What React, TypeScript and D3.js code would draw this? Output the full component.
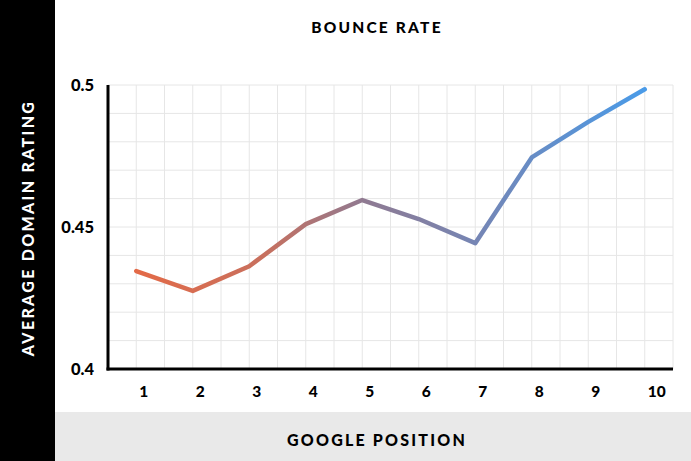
import React from "react";
import * as d3 from "d3";

const positions = [1, 2, 3, 4, 5, 6, 7, 8, 9, 10];
const values = [0.4345, 0.4275, 0.4362, 0.451, 0.4595, 0.4528, 0.4443, 0.4745, 0.487, 0.4985];
const yTicks = [0.4, 0.45, 0.5];
const title = "BOUNCE RATE";
const xTitle = "GOOGLE POSITION";
const yTitle = "AVERAGE DOMAIN RATING";

const W = 691, H = 461;
const left = 108, right = 673, top = 85, bottom = 369;

export default function App() {
  const x = d3.scaleLinear().domain([0.5, 10.5]).range([left, right]);
  const y = d3.scaleLinear().domain([0.4, 0.5]).range([bottom, top]);
  const line = d3.line<number>().x((_, i) => x(positions[i])).y((d) => y(d));
  const vGrid = d3.range(1, 21).map((i) => 0.5 + i * 0.5);
  const hGrid = d3.range(1, 11).map((i) => 0.4 + i * 0.01);
  const font = "Lato, 'Open Sans', sans-serif";
  return (
    <svg width={W} height={H} style={{ position: "absolute", left: 0, top: 0 }} fontFamily={font}>
      <defs>
        <linearGradient id="lg" gradientUnits="userSpaceOnUse" x1={x(1)} x2={x(10)} y1={0} y2={0}>
          <stop offset="0" stopColor="#e36a47" />
          <stop offset="0.25" stopColor="#c8705e" />
          <stop offset="0.45" stopColor="#8f7a92" />
          <stop offset="0.68" stopColor="#7486b6" />
          <stop offset="1" stopColor="#4a9be8" />
        </linearGradient>
      </defs>
      <rect x={0} y={0} width={W} height={H} fill="#fff" />
      <rect x={55} y={412} width={W - 55} height={H - 412} fill="#e9e9e9" />
      <rect x={0} y={0} width={55} height={H} fill="#000" />
      <text x={377} y={33} textAnchor="middle" fontSize={15.5} fontWeight={900} letterSpacing={2.2}>{title}</text>
      <text x={377} y={446} textAnchor="middle" fontSize={16} fontWeight={900} letterSpacing={2.2}>{xTitle}</text>
      <text transform={`translate(34,${(top + bottom) / 2 + 1}) rotate(-90)`} textAnchor="middle" fontSize={16} fontWeight={900} letterSpacing={2.3} fill="#fff">{yTitle}</text>
      {vGrid.map((v) => (
        <line key={"v" + v} x1={x(v)} x2={x(v)} y1={top} y2={bottom} stroke="#e6e6e6" strokeWidth={1} />
      ))}
      {hGrid.map((v) => (
        <line key={"h" + v} x1={left} x2={right} y1={y(v)} y2={y(v)} stroke="#e6e6e6" strokeWidth={1} />
      ))}
      <line x1={left} x2={left} y1={top} y2={bottom + 1.5} stroke="#000" strokeWidth={3} />
      <line x1={left - 1.5} x2={right} y1={bottom} y2={bottom} stroke="#000" strokeWidth={3} />
      {yTicks.map((t) => (
        <text key={t} x={94} y={y(t) + 6} textAnchor="end" fontSize={16.5} fontWeight={900}>{String(t)}</text>
      ))}
      {positions.map((p) => (
        <text key={p} x={x(p) + 3} y={397} textAnchor="start" fontSize={15.5} fontWeight={900}>{String(p)}</text>
      ))}
      <path d={line(values) || ""} fill="none" stroke="url(#lg)" strokeWidth={4.5} strokeLinejoin="round" strokeLinecap="round" />
    </svg>
  );
}
